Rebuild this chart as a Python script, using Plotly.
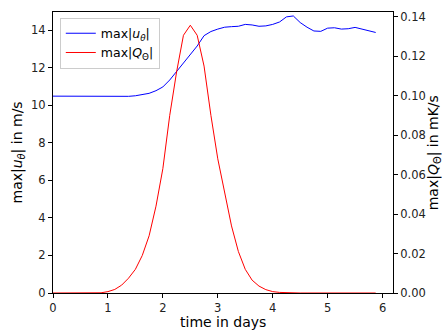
import plotly.graph_objects as go

t_days = [i * 0.125 for i in range(48)]

u_max = [10.48, 10.48, 10.48, 10.48, 10.47, 10.47, 10.47, 10.47,
         10.46, 10.46, 10.46, 10.47, 10.50, 10.56, 10.63, 10.77,
         10.97, 11.34, 11.80, 12.25, 12.67, 13.15, 13.70, 13.92,
         14.05, 14.15, 14.18, 14.20, 14.30, 14.27, 14.20, 14.22,
         14.30, 14.43, 14.70, 14.75, 14.40, 14.15, 13.95, 13.93,
         14.10, 14.12, 14.05, 14.07, 14.14, 14.05, 13.95, 13.87]

q_max = [0.0, 0.0, 0.0, 0.0, 0.0, 0.0, 0.0, 0.0001,
         0.0007, 0.0018, 0.0040, 0.0075, 0.012, 0.019, 0.029, 0.044,
         0.063, 0.090, 0.112, 0.1306, 0.1357, 0.1306, 0.115, 0.090,
         0.068, 0.050, 0.034, 0.021, 0.012, 0.0065, 0.0035, 0.0017,
         0.0007, 0.0003, 0.0001, 0.0, 0.0, 0.0, 0.0, 0.0,
         0.0, 0.0, 0.0, 0.0, 0.0, 0.0, 0.0, 0.0]

x_title = "time in days"
y_title = "max|<i>u</i><sub><i>θ</i></sub>| in m/s"
y2_title = "max|<i>Q</i><sub>Θ</sub>| in mK/s"

FONT = "DejaVu Sans"

fig = go.Figure()
fig.add_trace(go.Scatter(x=t_days, y=u_max, mode="lines",
                         line=dict(color="blue", width=1),
                         name="max|<i>u</i><sub><i>θ</i></sub>|"))
fig.add_trace(go.Scatter(x=t_days, y=q_max, mode="lines", yaxis="y2",
                         line=dict(color="red", width=1),
                         name="max|<i>Q</i><sub>Θ</sub>|"))

axis_common = dict(showgrid=False, zeroline=False, showline=True, linecolor="black",
                   linewidth=1, ticks="outside", ticklen=4, tickcolor="black",
                   automargin=False,
                   tickfont=dict(family=FONT, size=11.5, color="#222222"))

title_font = dict(family=FONT, size=14, color="black")

fig.update_layout(
    width=442, height=333,
    margin=dict(l=53, r=49, t=12, b=40),
    plot_bgcolor="white", paper_bgcolor="white",
    font=dict(family=FONT, color="black"),
    showlegend=True,
    legend=dict(x=0.02, y=0.98, xanchor="left", yanchor="top",
                bgcolor="rgba(255,255,255,0.8)", bordercolor="#cccccc", borderwidth=1,
                font=dict(family=FONT, size=12.5), itemwidth=30, tracegroupgap=0),
    xaxis=dict(range=[0, 6.19], tickvals=[0, 1, 2, 3, 4, 5, 6], mirror=True,
               **axis_common),
    yaxis=dict(range=[0, 14.96], tickvals=[0, 2, 4, 6, 8, 10, 12, 14],
               **axis_common),
    yaxis2=dict(range=[0, 0.1424], tickvals=[0, 0.02, 0.04, 0.06, 0.08, 0.10, 0.12, 0.14],
                tickformat=".2f", overlaying="y", side="right",
                **axis_common),
    annotations=[
        dict(text=x_title, xref="paper", yref="paper", x=0.5, y=-0.104,
             xanchor="center", yanchor="middle", showarrow=False, font=title_font),
        dict(text=y_title, xref="paper", yref="paper", x=-0.103, y=0.5,
             xanchor="center", yanchor="middle", textangle=-90, showarrow=False,
             font=title_font),
        dict(text=y2_title, xref="paper", yref="paper", x=1.12, y=0.5,
             xanchor="center", yanchor="middle", textangle=-90, showarrow=False,
             font=title_font),
    ],
)

fig.write_html("out.html")
